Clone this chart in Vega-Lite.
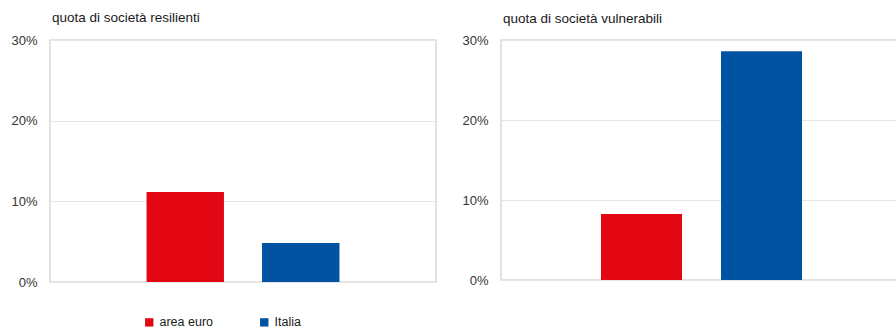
{
  "$schema": "https://vega.github.io/schema/vega-lite/v6.json",
  "padding": {"left": 10, "top": 9, "right": 0, "bottom": 0},
  "autosize": {"type": "pad"},
  "background": "white",
  "data": {"values": [
    {"pannello": "resilienti", "serie": "area euro", "quota": 0.1115},
    {"pannello": "resilienti", "serie": "Italia", "quota": 0.0483},
    {"pannello": "vulnerabili", "serie": "area euro", "quota": 0.0825},
    {"pannello": "vulnerabili", "serie": "Italia", "quota": 0.286}
  ]},
  "spacing": 24,
  "hconcat": [
    {
      "title": {"text": "quota di società resilienti"},
      "width": 386,
      "height": 242,
      "transform": [{"filter": "datum.pannello === 'resilienti'"}],
      "mark": {"type": "bar"},
      "encoding": {
        "x": {"field": "serie", "type": "nominal", "axis": null,
              "scale": {"domain": ["area euro", "Italia"], "paddingInner": 0.33, "paddingOuter": 0.836}},
        "y": {"field": "quota", "type": "quantitative",
              "scale": {"domain": [0, 0.3], "nice": false},
              "axis": {"values": [0, 0.1, 0.2, 0.3], "format": ".0%", "title": null}},
        "color": {"field": "serie", "type": "nominal",
                  "scale": {"domain": ["area euro", "Italia"], "range": ["#E30613", "#0053A0"]},
                  "legend": {"title": null, "orient": "none", "direction": "horizontal", "legendX": 93, "legendY": 276}}
      }
    },
    {
      "title": {"text": "quota di società vulnerabili", "offset": 9},
      "width": 401,
      "height": 240,
      "transform": [{"filter": "datum.pannello === 'vulnerabili'"}],
      "mark": {"type": "bar"},
      "encoding": {
        "x": {"field": "serie", "type": "nominal", "axis": null,
              "scale": {"domain": ["area euro", "Italia"], "paddingInner": 0.325, "paddingOuter": 0.833}},
        "y": {"field": "quota", "type": "quantitative",
              "scale": {"domain": [0, 0.3], "nice": false},
              "axis": {"values": [0, 0.1, 0.2, 0.3], "format": ".0%", "title": null}},
        "color": {"field": "serie", "type": "nominal", "legend": null}
      }
    }
  ],
  "config": {
    "font": "Liberation Sans",
    "view": {"stroke": "#d9d9d9", "strokeWidth": 1.5},
    "title": {"anchor": "start", "frame": "group", "fontSize": 13.5, "fontWeight": "normal", "color": "#1a1a1a", "offset": 10, "dx": 2},
    "axis": {"labelFontSize": 13, "labelColor": "#333333", "ticks": false, "domain": false,
             "grid": true, "gridColor": "#e6e6e6", "labelPadding": 13},
    "legend": {"labelFontSize": 12.5, "labelColor": "#1a1a1a", "symbolType": "square", "symbolSize": 70,
               "symbolStrokeWidth": 0, "columnPadding": 44, "labelOffset": 4},
    "bar": {"stroke": null}
  }
}
